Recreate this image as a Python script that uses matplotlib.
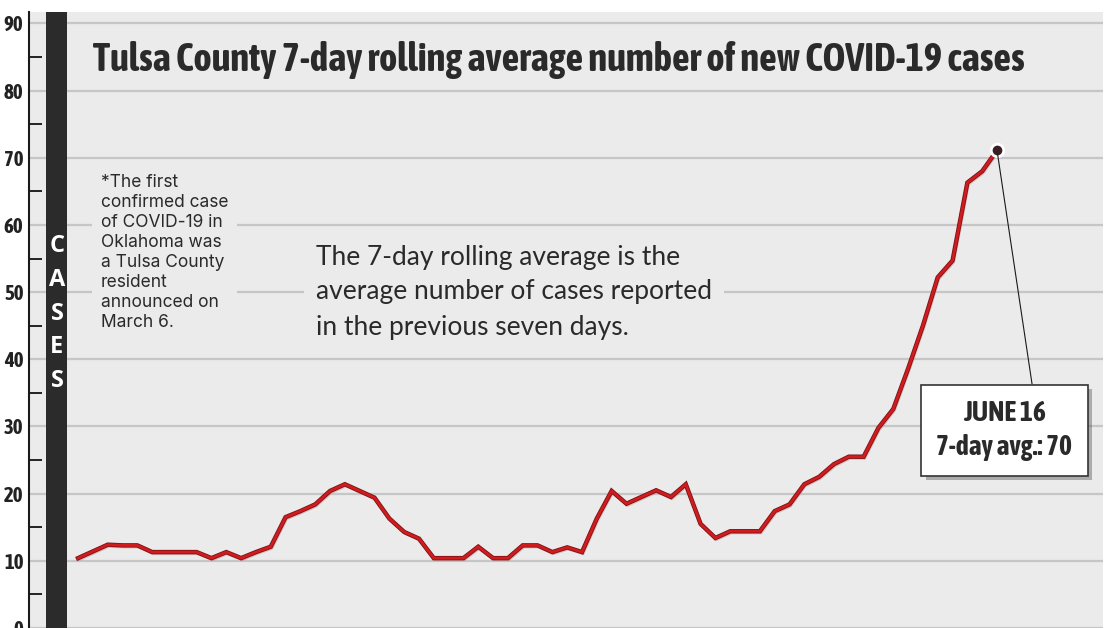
"""
Tulsa County 7-day rolling average of new COVID-19 cases (line chart)
"""

import pandas as pd
import matplotlib
matplotlib.use('Agg')
from matplotlib import pyplot as plt
from matplotlib import patheffects as pe
from matplotlib import font_manager as fm
from matplotlib.patches import Rectangle
from matplotlib.ticker import MultipleLocator

# daily values, 15 April -> 16 June
dates = pd.date_range('2020-04-15', '2020-06-16', freq='D')
cases = [10.4, 11.4, 12.4, 12.3, 12.3, 11.3, 11.3, 11.3, 11.3, 10.4,
         11.3, 10.4, 11.3, 12.1, 16.5, 17.4, 18.4, 20.4, 21.4, 20.4,
         19.4, 16.3, 14.3, 13.3, 10.4, 10.4, 10.4, 12.1, 10.4, 10.4,
         12.3, 12.3, 11.3, 12.0, 11.3, 16.3, 20.4, 18.5, 19.5, 20.5,
         19.5, 21.4, 15.5, 13.4, 14.4, 14.4, 14.4, 17.4, 18.4, 21.4,
         22.5, 24.4, 25.5, 25.5, 29.8, 32.6, 38.6, 45.0, 52.2, 54.7,
         66.3, 68.0, 71.1]
y_ticks = list(range(0, 100, 10))

title = 'Tulsa County 7-day rolling average number of new COVID-19 cases'
note_first = ('*The first\nconfirmed case\nof COVID-19 in\nOklahoma was\n'
              'a Tulsa County\nresident\nannounced on\nMarch 6.')
note_avg = ('The 7-day rolling average is the\n'
            'average number of cases reported\n'
            'in the previous seven days.')
callout = 'JUNE 16\n7-day avg.: 70'

BG = '#ebebeb'
GRID = '#c6c6c6'
RED = '#d01b1f'


def find_narrow():
    """look for a condensed / narrow font, bold if possible"""
    found = []
    for f in fm.fontManager.ttflist:
        st = str(f.stretch)
        if ('condensed' in st or 'Narrow' in f.name or 'Condensed' in f.name):
            w = f.weight if isinstance(f.weight, int) else fm.weight_dict.get(f.weight, 400)
            found.append((abs(w - 700), f.name, st))
    if not found:
        return 'DejaVu Sans', 'normal'
    found.sort()
    return found[0][1], found[0][2]


narrow_name, narrow_stretch = find_narrow()
NARROW = dict(family=[narrow_name, 'DejaVu Sans'], fontstretch=narrow_stretch,
              fontweight='bold')

fig = plt.figure(figsize=(11.16, 6.28), dpi=100, facecolor='white')
ax = fig.add_axes([29 / 1116, 0, 1074 / 1116, 616 / 628])
ax.set_facecolor(BG)

ax.set_ylim(0.15, 91.7)
ax.set_xlim(dates[0] - pd.Timedelta(days=3.31), dates[-1] + pd.Timedelta(days=7.15))

# y axis: labels on the left, small ticks at the 5s pointing inwards
ax.set_yticks(y_ticks)
ax.yaxis.set_minor_locator(MultipleLocator(10, offset=5))
ax.tick_params(axis='y', which='major', length=0, pad=4)
ax.tick_params(axis='y', which='minor', direction='in', length=9.5, width=1.2, color='black')
ax.set_xticks([])
ax.grid(axis='y', which='major', color=GRID, linewidth=1.6)
ax.set_axisbelow(True)
for side in ['top', 'right', 'bottom']:
    ax.spines[side].set_visible(False)
ax.spines['left'].set_linewidth(1.5)
ax.spines['left'].set_color('#1a1a1a')

# black "CASES" bar
ax.add_patch(Rectangle((17 / 1074, 0), 21 / 1074, 1, transform=ax.transAxes,
                       facecolor='#2b2b2b', edgecolor='none', zorder=2))
for k, ch in enumerate('CASES'):
    ypix = 246 + 33.75 * k
    ax.text(28 / 1074, 1 - (ypix - 12) / 616, ch, transform=ax.transAxes,
            ha='center', va='center', color='white', fontsize=17,
            fontweight='bold', family=['Open Sans', 'DejaVu Sans'], zorder=3)

# the line
ax.plot(dates, cases, color=RED, linewidth=2.0, solid_joinstyle='miter', zorder=4,
        path_effects=[pe.SimpleLineShadow(offset=(0.8, -1.2), shadow_color='#c09090', alpha=0.5),
                      pe.Stroke(linewidth=3.2, foreground='#7c1214'), pe.Normal()])
ax.plot(dates[-1:], cases[-1:], 'o', markersize=9, markerfacecolor='#3b1d24',
        markeredgecolor='white', markeredgewidth=2, zorder=5)

# texts
t_title = ax.text(64 / 1074, 1 - (60 - 12) / 616, title, transform=ax.transAxes,
                  ha='left', va='center', fontsize=24, color='#2a2a2a', zorder=3,
                  **NARROW)

ax.text(72 / 1074, 1 - (174 - 12) / 616, note_first, transform=ax.transAxes,
        ha='left', va='top', fontsize=12.5, linespacing=1.23,
        family=['Inter', 'DejaVu Sans'], color='#2a2a2a', zorder=3,
        bbox=dict(boxstyle='square,pad=0.5', facecolor=BG, edgecolor='none'))

ax.text(287 / 1074, 1 - (292 - 12) / 616, note_avg, transform=ax.transAxes,
        ha='left', va='center', fontsize=19, linespacing=1.5,
        family=['Lato', 'DejaVu Sans'], color='#2a2a2a', zorder=3,
        bbox=dict(boxstyle='square,pad=0.45', facecolor=BG, edgecolor='none'))

ann = ax.annotate(callout, xy=(dates[-1], cases[-1]),
                  xytext=(975.5 / 1074, 1 - (430.5 - 12) / 616), textcoords='axes fraction',
                  ha='center', va='center', fontsize=18,
                  color='#2a2a2a', linespacing=1.35, zorder=6,
                  bbox=dict(boxstyle='square,pad=0.55', facecolor='white',
                            edgecolor='#333333', linewidth=1.2),
                  arrowprops=dict(arrowstyle='-', color='#1a1a1a', linewidth=0.8,
                                  relpos=(0.72, 1.0), shrinkA=0, shrinkB=3),
                  **NARROW)
ann.get_bbox_patch().set_path_effects([pe.SimplePatchShadow(offset=(3, -3), alpha=0.4),
                                       pe.Normal()])

for lab in ax.get_yticklabels():
    lab.set_fontsize(15)
    lab.set_color('#222222')
    lab.set_fontfamily(NARROW['family'])
    lab.set_fontstretch(narrow_stretch)
    lab.set_fontweight('bold')

# scale the narrow texts so their widths match the layout
fig.canvas.draw()
for txt, target in [(t_title, 932), (ann, 136)]:
    w = txt.get_window_extent().width
    txt.set_fontsize(txt.get_fontsize() * target / w)
w90 = max(lab.get_window_extent().width for lab in ax.get_yticklabels())
if w90 > 22:
    for lab in ax.get_yticklabels():
        lab.set_fontsize(15 * 21 / w90)

fig.savefig('out.png', dpi=100, facecolor='white')
